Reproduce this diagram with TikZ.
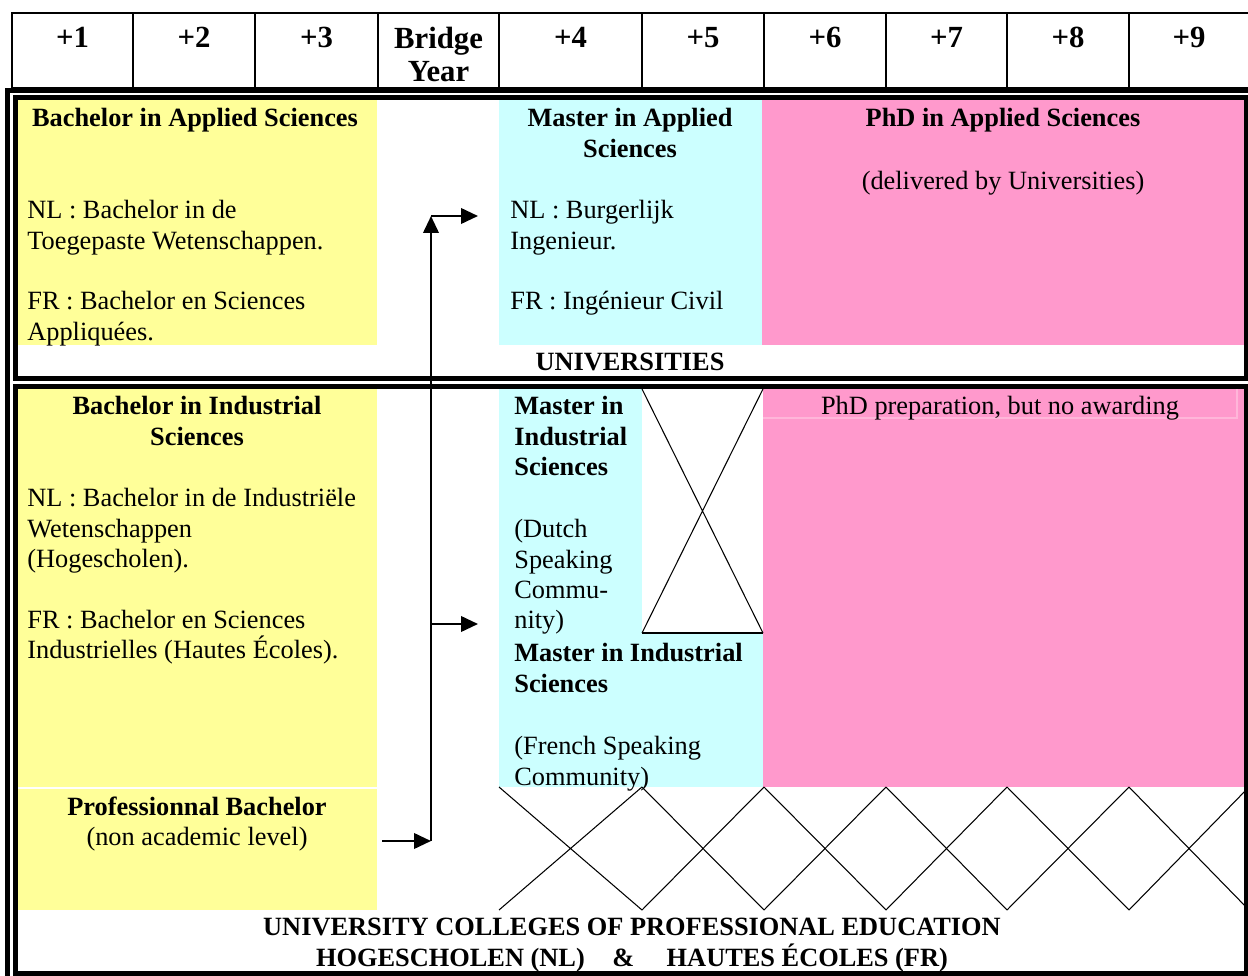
\documentclass[tikz,border=0pt]{standalone}
\usepackage{fontspec}
\setmainfont{Liberation Serif}
\usetikzlibrary{positioning,arrows.meta,fit,calc}
\definecolor{bachyellow}{HTML}{FFFF99}
\definecolor{mastercyan}{HTML}{CCFFFF}
\definecolor{phdpink}{HTML}{FF99CC}
\definecolor{prepline}{HTML}{FFB6D9}

\begin{document}
\begin{tikzpicture}[x=0.02cm, y=-0.02cm,
    cellbox/.style={inner sep=0pt, outer sep=0pt},
    frame/.style={line width=2.85pt},
    grid/.style={line width=1.4pt},
    thin/.style={line width=0.6pt},
    arr/.style={line width=1.3pt, -{Triangle[length=0.34cm, width=0.31cm]}},
    hdr/.style={font=\fontsize{17.5}{18.8}\selectfont\bfseries, align=center, anchor=north, inner sep=0pt},
    txt/.style={font=\fontsize{15}{17.3}\selectfont, inner sep=0pt, align=left, anchor=north west},
    ttl/.style={font=\fontsize{15}{17.3}\selectfont\bfseries, inner sep=0pt, align=center, anchor=north}]
  \useasboundingbox (0,0) rectangle (1248,976);
  \draw[grid] (12,13) rectangle (1249,88);
  \foreach \xa/\xb/\lab [count=\k] in {12/133/+1, 133/255/+2, 255/378/+3, 378/499/Bridge\\Year, 499/642/+4, 642/764/+5, 764/886/+6, 886/1007/+7, 1007/1129/+8, 1129/1249/+9} {
    \draw[grid] (\xb,13) -- (\xb,88);
    \node[hdr] (hd\k) at ({(\xa+\xb)/2},27) {\lab};
  }
  \node[cellbox, fill=bachyellow, fit={(17,100) (377,345)}] (basbox) {};
  \node[cellbox, fill=mastercyan, fit={(499,100) (762,345)}] (masbox) {};
  \node[cellbox, fill=phdpink, fit={(762,100) (1244,345)}] (phdabox) {};
  \node[cellbox, fill=bachyellow, fit={(17,389) (377,787)}] (bisbox) {};
  \node[cellbox, fill=bachyellow, fit={(17,789) (377,910)}] (pbbox) {};
  \node[cellbox, fill=mastercyan, fit={(499,389) (642,787)}] (misbox) {};
  \node[cellbox, fill=mastercyan, fit={(642,633) (763,787)}] (misfrbox) {};
  \node[cellbox, fill=phdpink, fit={(763,389) (1244,787)}] (phdibox) {};
  \draw[prepline, line width=0.6pt] (763,418) -- (1237,418) -- (1237,389);
  \draw[frame] (7.5,90.5) rectangle (1254,979);
  \draw[frame] (15.8,97.5) rectangle (1246.5,378.5);
  \draw[frame] (15.8,386.5) rectangle (1246.5,973.3);
  \draw[thin] (642,389) -- (763,633) (763,389) -- (642,633);
  \draw[line width=1pt] (642,633) -- (763,633);
  \foreach \xa/\xb in {499/642, 642/764, 764/886, 886/1007, 1007/1129, 1129/1249}
    \draw[thin] (\xa,787) -- (\xb,910) (\xa,910) -- (\xb,787);
  \coordinate (jbot) at (431,841);
  \coordinate (jmid) at (431,624);
  \coordinate (jtop) at (431,216);
  \draw[arr] ($(pbbox.east |- jbot)+(5,0)$) -- (jbot);
  \draw[arr] (jbot) -- (jtop);
  \draw[arr] (jtop) -- ($(masbox.west |- jtop)+(-21,0)$);
  \draw[arr] (jmid) -- ($(misbox.west |- jmid)+(-21,0)$);
  \node[ttl] (bas) at (195,108) {Bachelor in Applied Sciences};
  \node[txt] (basnl) at (27,200) {NL : Bachelor in de\\Toegepaste Wetenschappen.\\[17.3pt]FR : Bachelor en Sciences\\Appliquées.};
  \node[ttl] (mas) at (630,108) {Master in Applied\\Sciences};
  \node[txt] (masnl) at (510,200) {NL : Burgerlijk\\Ingenieur.\\[17.3pt]FR : Ingénieur Civil};
  \node[ttl] (phda) at (1003,108) {PhD in Applied Sciences};
  \node[txt, anchor=north] (phdanote) at (1003,171) {(delivered by Universities)};
  \node[ttl] (univ) at (630,353) {UNIVERSITIES};
  \node[ttl] (bis) at (197,396) {Bachelor in Industrial\\Sciences};
  \node[txt] (bisnl) at (27,488) {NL : Bachelor in de Industriële\\Wetenschappen\\(Hogescholen).\\[17.3pt]FR : Bachelor en Sciences\\Industrielles (Hautes Écoles).};
  \node[ttl] (pb) at (197,797) {Professionnal Bachelor};
  \node[txt, anchor=north] (pbnote) at (197,827) {(non academic level)};
  \node[ttl, anchor=north west, align=left] (mis) at (514,396) {Master in\\Industrial\\Sciences};
  \node[txt] (misnl) at (514,519) {(Dutch\\Speaking\\Commu-\\nity)};
  \node[ttl, anchor=north west, align=left] (misfr) at (514,643) {Master in Industrial\\Sciences};
  \node[txt] (misfrnote) at (514,736) {(French Speaking\\Community)};
  \node[txt, anchor=north] (phdprep) at (1000,396) {PhD preparation, but no awarding};
  \node[ttl] (coll) at (632,918) {UNIVERSITY COLLEGES OF PROFESSIONAL EDUCATION\\HOGESCHOLEN (NL)\hspace{0.55cm}\&\hspace{0.65cm}HAUTES ÉCOLES (FR)};
\end{tikzpicture}
\end{document}
